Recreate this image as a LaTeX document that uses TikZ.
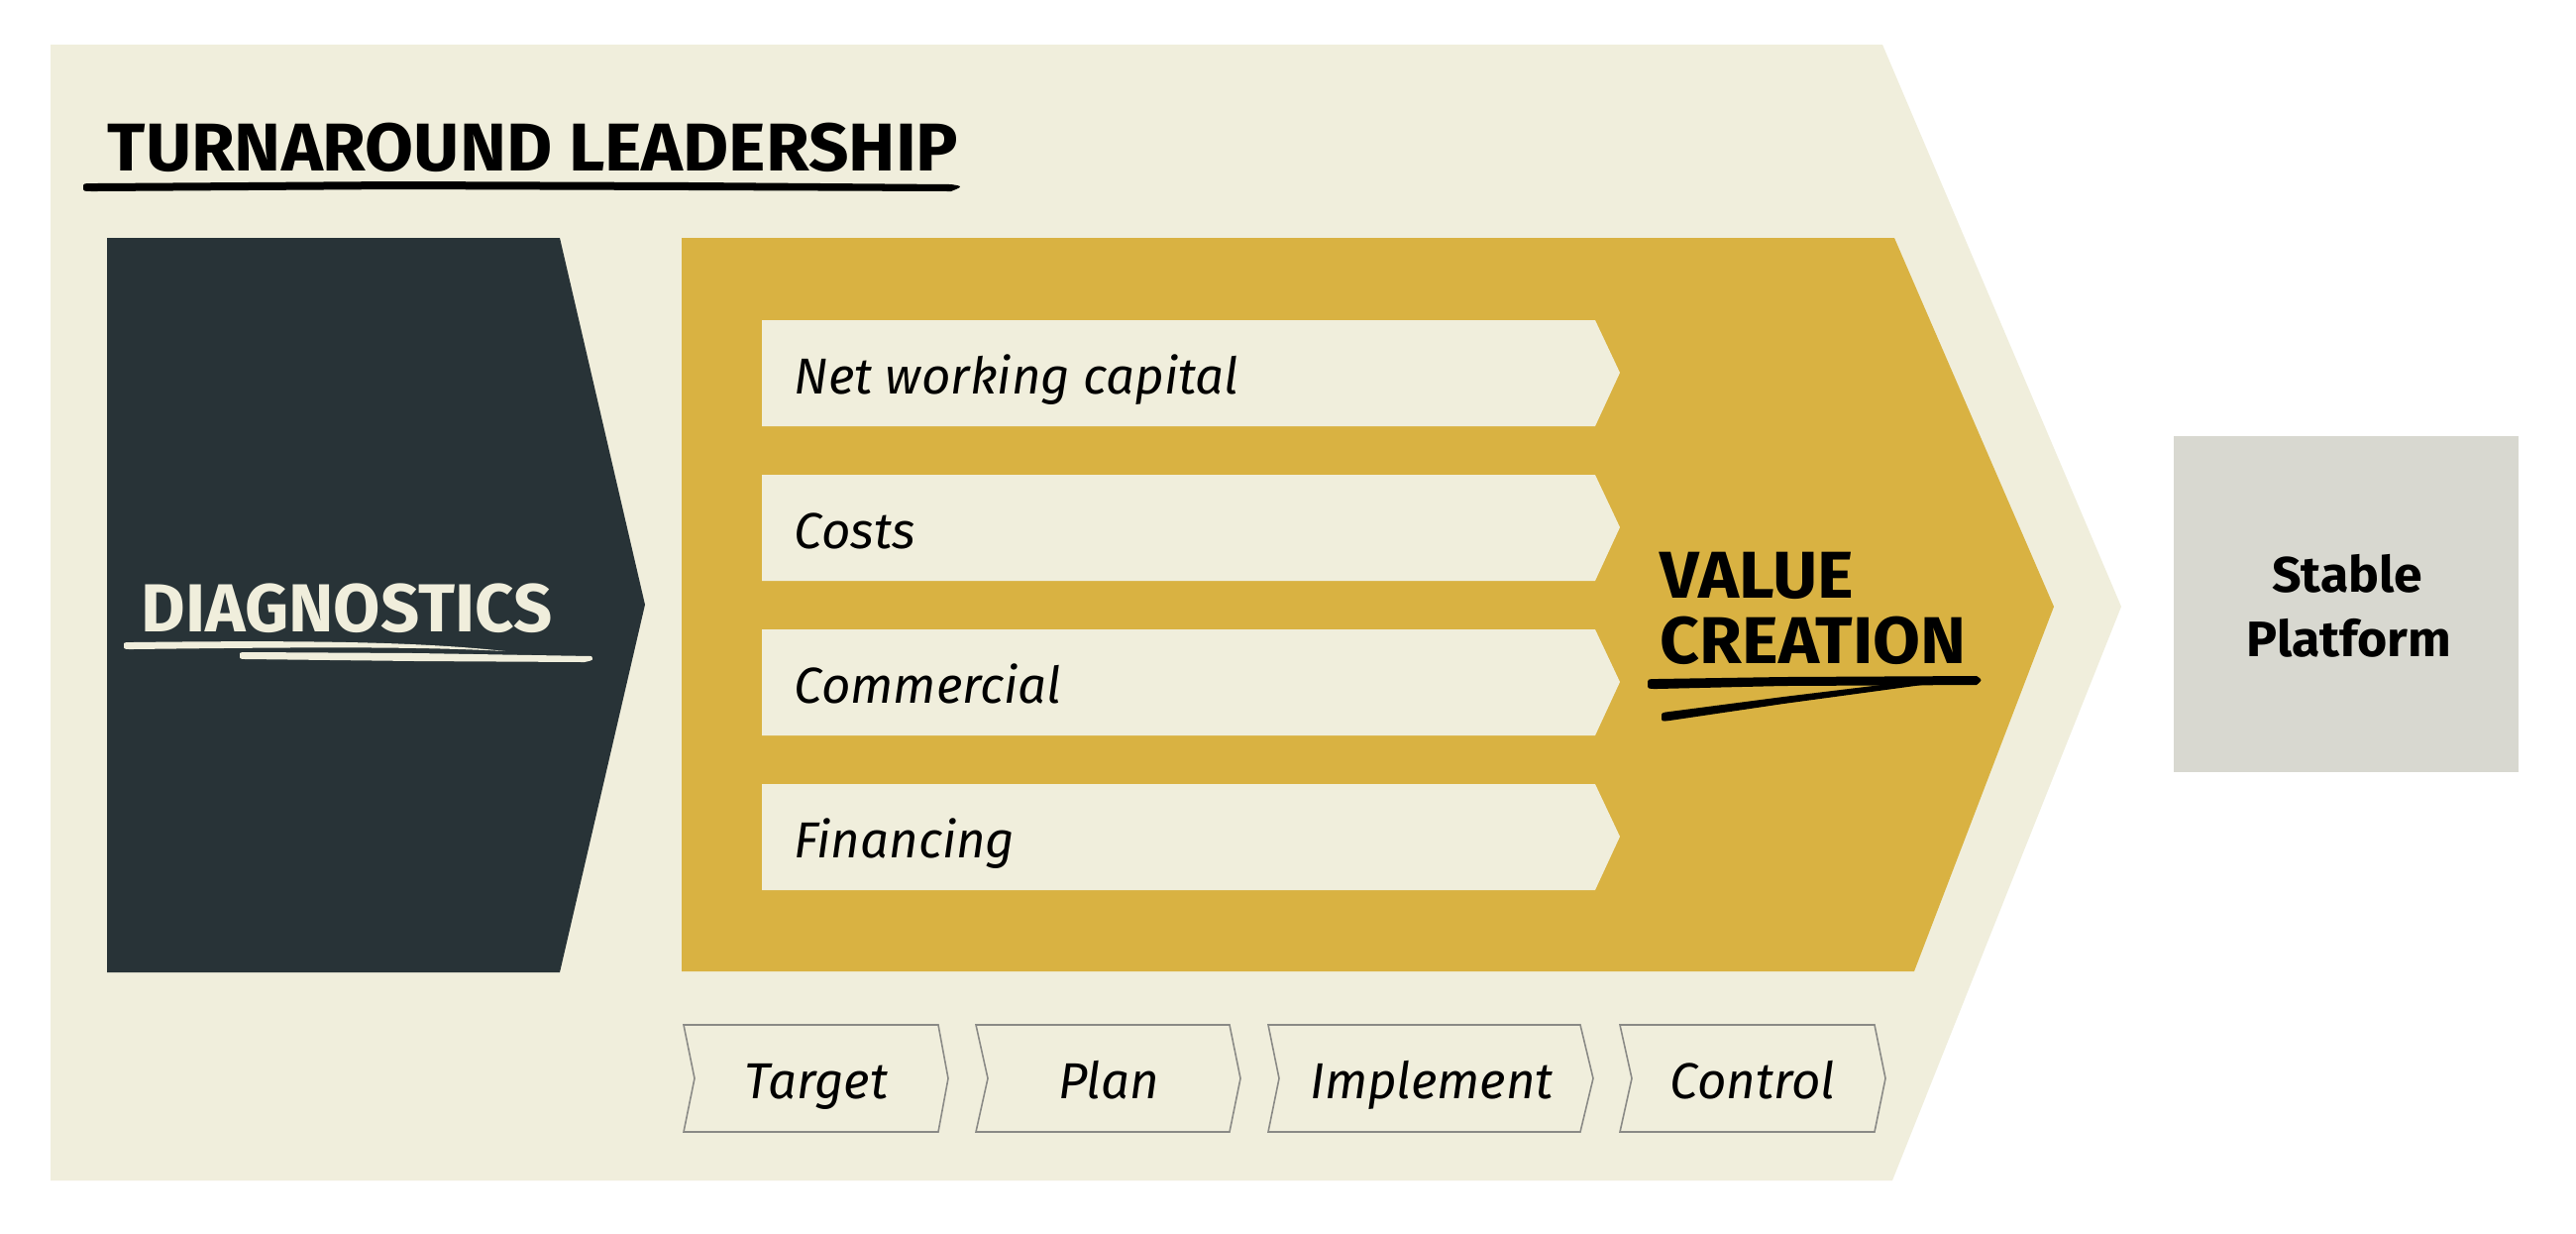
\documentclass[tikz,border=0pt]{standalone}
\usepackage{fontspec}
\setmainfont{Fira Sans}
\newfontfamily\titlefont[FakeStretch=1.04]{Fira Sans}
\newfontfamily\vcfont[FakeStretch=1.04]{Fira Sans}
\newfontfamily\platfont[FakeStretch=1.03]{Fira Sans}
\definecolor{cream}{HTML}{F0EEDC}
\definecolor{gold}{HTML}{D9B242}
\definecolor{darkslate}{HTML}{283337}
\definecolor{platgray}{HTML}{D8D8D0}
\definecolor{stepline}{HTML}{8A8A86}
\tikzset{
  bartext/.style={anchor=base west,inner sep=0pt,font=\fontsize{14.5}{16}\selectfont\itshape},
  steptext/.style={anchor=base,inner sep=0pt,font=\fontsize{14.5}{16}\selectfont\itshape},
  stepbox/.style={fill=cream,draw=stepline,line width=0.45pt,line join=miter},
  vctext/.style={anchor=base west,inner sep=0pt,font=\vcfont\bfseries\fontsize{19}{21}\selectfont},
  plattext/.style={anchor=base,inner sep=0pt,font=\platfont\bfseries\fontsize{14.3}{16}\selectfont},
}
\begin{document}
\begin{tikzpicture}[x=0.01cm,y=-0.01cm]
\useasboundingbox (0,0) rectangle (2600,1244);
\fill[white] (0,0) rectangle (2600,1244);
% outer cream chevron
\fill[cream] (51,45) -- (1900,45) -- (2141,612) -- (1910,1191) -- (51,1191) -- cycle;
% diagnostics
\fill[darkslate] (108,240) -- (565,240) -- (651,610) -- (565,981) -- (108,981) -- cycle;
% value creation
\fill[gold] (688,240) -- (1912,240) -- (2073,612) -- (1932,980) -- (688,980) -- cycle;
% bars
\foreach \t in {323,479,635,791}{
  \fill[cream] (769,\t) -- (1610,\t) -- (1635,\t+53) -- (1610,\t+107) -- (769,\t+107) -- cycle;
}
\node[bartext] (nwc) at (801,397) {Net working capital};
\node[bartext] (costs) at (801,553) {Costs};
\node[bartext] (comm) at (801,709) {Commercial};
\node[bartext] (fin) at (801,865) {Financing};
% steps
\draw[stepbox] (690,1034) -- (947,1034) -- (957,1088) -- (947,1142) -- (690,1142) -- (701,1088) -- cycle;
\draw[stepbox] (985,1034) -- (1241,1034) -- (1252,1088) -- (1241,1142) -- (985,1142) -- (997,1088) -- cycle;
\draw[stepbox] (1280,1034) -- (1595,1034) -- (1608,1088) -- (1595,1142) -- (1280,1142) -- (1291,1088) -- cycle;
\draw[stepbox] (1635,1034) -- (1892,1034) -- (1903,1088) -- (1892,1142) -- (1635,1142) -- (1647,1088) -- cycle;
\node[steptext] (target) at (824,1108) {Target};
\node[steptext] (plan) at (1119,1108) {Plan};
\node[steptext] (impl) at (1445,1108) {Implement};
\node[steptext] (ctrl) at (1769,1108) {Control};
% title
\node[anchor=base west,inner sep=0pt,font=\titlefont\bfseries\fontsize{19.4}{22}\selectfont] (title) at (108,172) {TURNAROUND LEADERSHIP};
\fill[black] (84,189) .. controls (84,185) .. (96,185) -- (400,183) -- (700,184) -- (960,186) .. controls (972,188) .. (960,193) -- (700,192) -- (400,191) -- (96,193) .. controls (84,193) .. cycle;
% diagnostics text
\node[anchor=base west,inner sep=0pt,text=cream,font=\bfseries\fontsize{19.5}{22}\selectfont] (diag) at (142,637) {DIAGNOSTICS};
\fill[cream] (125,651) .. controls (125,648) .. (133,648) .. controls (300,646) and (420,647) .. (510,657) .. controls (420,652) and (300,653) .. (133,655) .. controls (125,655) .. cycle;
\fill[cream] (242,661) .. controls (242,658) .. (250,658) -- (420,659) -- (597,662) .. controls (599,666) .. (590,668) -- (420,667) -- (250,665) .. controls (242,665) .. cycle;
% value creation text
\node[vctext] (value) at (1675,603) {VALUE};
\node[vctext] (creation) at (1675,669) {CREATION};
\fill[black] (1663,690) .. controls (1663,685) .. (1672,685) -- (1800,683) -- (1995,682) .. controls (2001,686) .. (1995,691) -- (1800,692) -- (1672,695) .. controls (1663,695) .. cycle;
\fill[black] (1677,723) .. controls (1677,719) .. (1685,718) -- (1800,703) -- (1940,686) -- (1940,691) -- (1800,710) -- (1685,727) .. controls (1677,728) .. cycle;
% stable platform
\fill[platgray] (2194,440) rectangle (2542,779);
\node[plattext] (stable) at (2369,597) {Stable};
\node[plattext] (platform) at (2371,662) {Platform};
\end{tikzpicture}
\end{document}
